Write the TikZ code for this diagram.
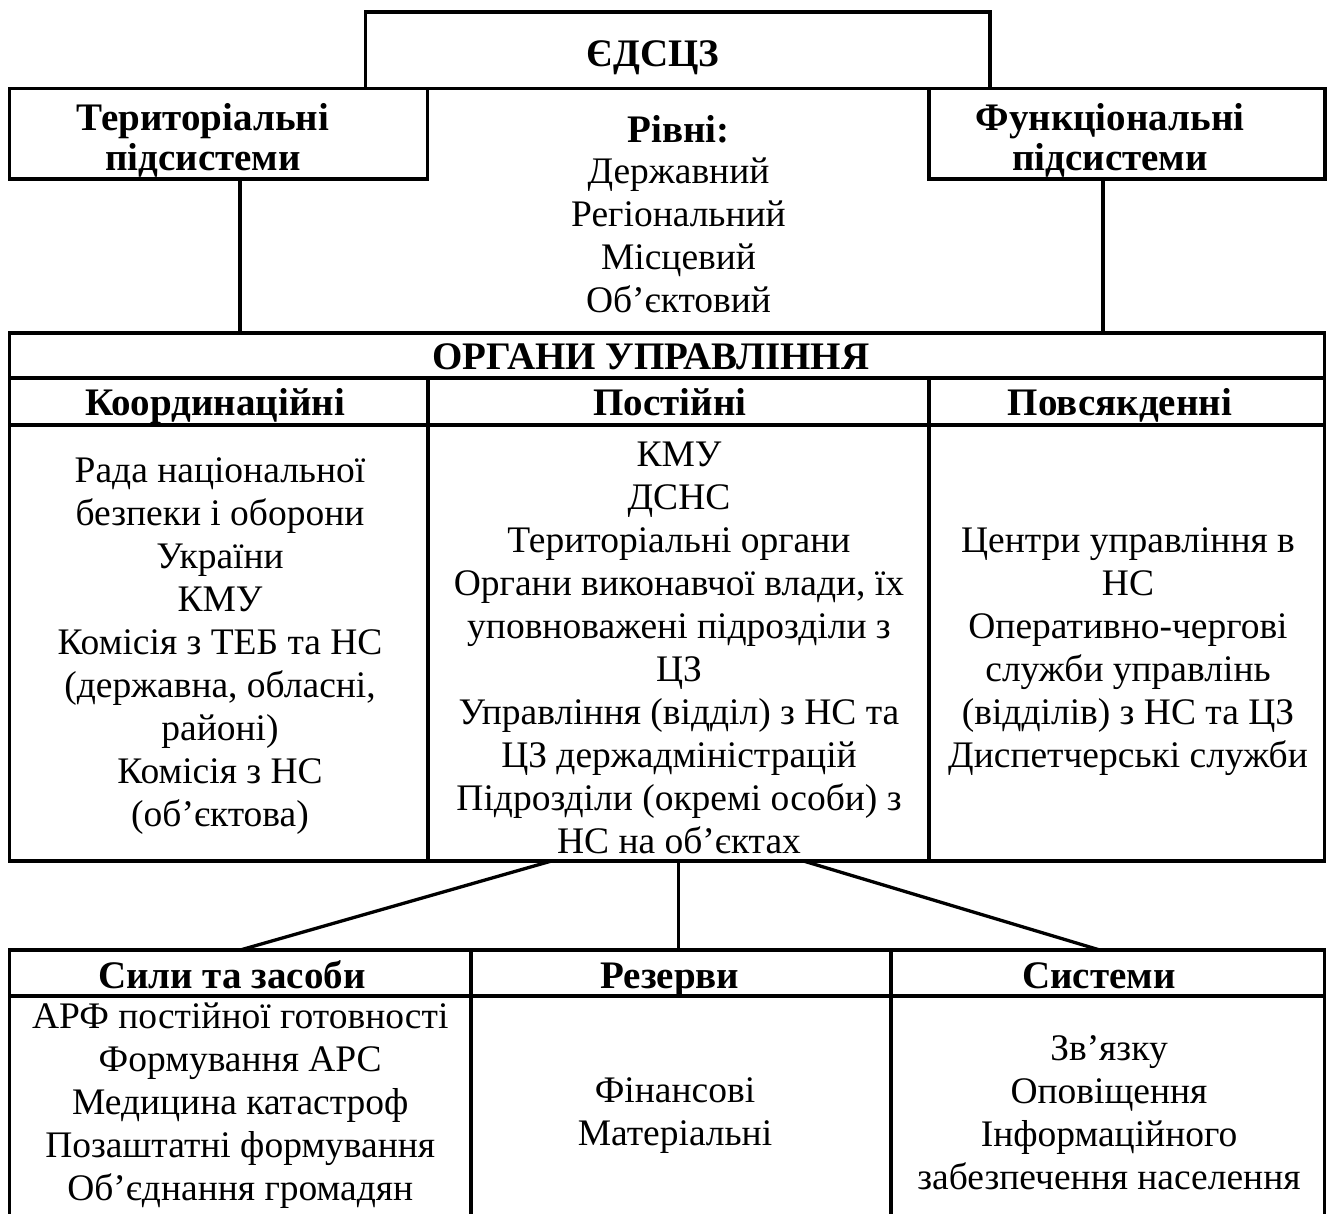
\documentclass[tikz,border=0pt]{standalone}
\usepackage{fontspec}
\setmainfont{Liberation Serif}
\begin{document}
\begin{tikzpicture}[x=1pt,y=-1pt, line width=3.3pt,
  cell/.style={draw, inner sep=0pt, outer sep=0pt},
  txt/.style={align=center, inner sep=0pt, font=\fontsize{37.5}{43}\selectfont,
    execute at begin node=\strut, execute at end node=\strut},
  hdr/.style={anchor=base, inner sep=0pt, font=\fontsize{39}{40}\selectfont\bfseries},
  hdrtwo/.style={align=center, inner sep=0pt, font=\fontsize{39}{40}\selectfont\bfseries,
    execute at begin node=\strut, execute at end node=\strut}]
\useasboundingbox (0,0) rectangle (1330,1213);

% top boxes
\node[cell,minimum width=624.3pt,minimum height=76.7pt] (ed) at (677.85,50.35) {};
\node[hdr] (edt) at (653,66) {ЄДСЦЗ};
\node[cell,minimum width=418.2pt,minimum height=90.3pt] (terr) at (218.6,133.85) {};
\node[hdrtwo] (terrt) at (203,143) {Територіальні\\підсистеми};
\node[cell,minimum width=396pt,minimum height=90.3pt] (func) at (1127,133.85) {};
\node[hdrtwo] (funct) at (1110,143) {Функціональні\\підсистеми};
\node[txt] (levels) at (678.5,220) {{\fontsize{39}{43}\selectfont\bfseries Рівні:}\\[-2pt]Державний\\Регіональний\\Місцевий\\Об’єктовий};

% management table
\node[cell,minimum width=1315pt,minimum height=45pt] (org) at (667,355.5) {};
\node[hdr] (orgt) at (651,369) {ОРГАНИ УПРАВЛІННЯ};
\node[cell,minimum width=418.5pt,minimum height=47pt] (coordh) at (218.75,401.5) {};
\node[cell,minimum width=501pt,minimum height=47pt] (posth) at (678.5,401.5) {};
\node[cell,minimum width=395.5pt,minimum height=47pt] (dailyh) at (1126.75,401.5) {};
\node[hdr] (coordht) at (215,415) {Координаційні};
\node[hdr] (postht) at (670,415) {Постійні};
\node[hdr] (dailyht) at (1120,415) {Повсякденні};
\node[cell,minimum width=418.5pt,minimum height=436pt] (coordc) at (218.75,643) {};
\node[cell,minimum width=501pt,minimum height=436pt] (postc) at (678.5,643) {};
\node[cell,minimum width=395.5pt,minimum height=436pt] (dailyc) at (1126.75,643) {};
\node[txt] (coordt) at (220,649) {Рада національної\\безпеки і оборони\\України\\КМУ\\Комісія з ТЕБ та НС\\(державна, обласні,\\районі)\\Комісія з НС\\(об’єктова)};
\node[txt] (postt) at (679,654) {КМУ\\ДСНС\\Територіальні органи\\Органи виконавчої влади, їх\\уповноважені підрозділи з\\ЦЗ\\Управління (відділ) з НС та\\ЦЗ держадміністрацій\\Підрозділи (окремі особи) з\\НС на об’єктах};
\node[txt] (dailyt) at (1128,654) {Центри управління в\\НС\\Оперативно-чергові\\служби управлінь\\(відділів) з НС та ЦЗ\\Диспетчерські служби};

% bottom table
\node[cell,minimum width=461.5pt,minimum height=46pt] (sily) at (240.25,973) {};
\node[cell,minimum width=420pt,minimum height=46pt] (rez) at (681,973) {};
\node[cell,minimum width=433.5pt,minimum height=46pt] (syst) at (1107.75,973) {};
\node[hdr] (silyh) at (232,988) {Сили та засоби};
\node[hdr] (rezh) at (670,988) {Резерви};
\node[hdr] (systh) at (1099,988) {Системи};
\coordinate (bot) at (0,1216);
\draw (sily.south west) -- (sily.south west |- bot);
\draw (sily.south east) -- (sily.south east |- bot);
\draw (rez.south east) -- (rez.south east |- bot);
\draw (syst.south east) -- (syst.south east |- bot);
\node[txt, execute at end node={}, anchor=north] (silyt) at (240.25,1001) {АРФ постійної готовності\\Формування АРС\\Медицина катастроф\\Позаштатні формування\\Об’єднання громадян};
\node[txt] (rezt) at (675,1118.5) {Фінансові\\Матеріальні};
\node[txt] (systt) at (1109,1119) {Зв’язку\\Оповіщення\\Інформаційного\\забезпечення населення};

% connectors
\draw ([xshift=21.4pt]terr.south) -- ([xshift=21.4pt]terr.south |- org.north);
\draw ([xshift=-24pt]func.south) -- ([xshift=-24pt]func.south |- org.north);
\draw ([xshift=-127pt]postc.south) -- (sily.north);
\draw (postc.south) -- (postc.south |- rez.north);
\draw ([xshift=125pt]postc.south) -- ([xshift=-8pt]syst.north);
\end{tikzpicture}
\end{document}
